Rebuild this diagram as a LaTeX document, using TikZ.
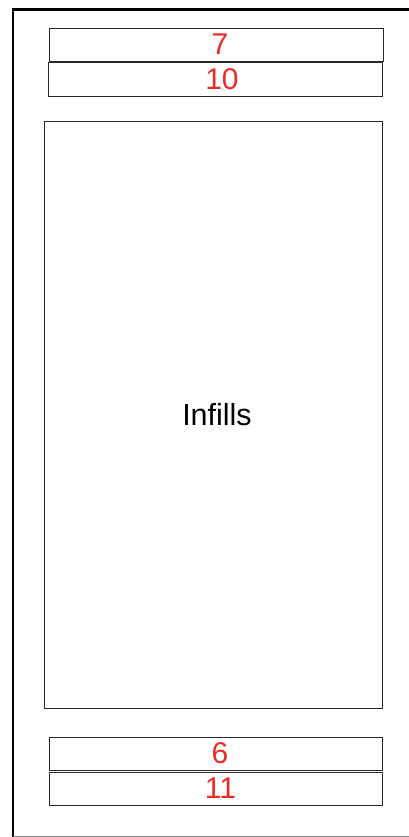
\documentclass[tikz,border=0pt]{standalone}
\usepackage{fontspec}
\setmainfont{Liberation Sans}
\definecolor{numred}{RGB}{234,43,38}
\definecolor{frameline}{RGB}{40,40,40}
\begin{document}
\begin{tikzpicture}[x=1pt,y=-1pt,
  box/.style={draw=frameline, line width=0.9pt, rectangle, inner sep=0pt},
  numlabel/.style={text=numred, font=\fontsize{30}{30}\selectfont},
  biglabel/.style={text=black, font=\fontsize{30.5}{30.5}\selectfont}]
\useasboundingbox (0,0) rectangle (409,837);
% outer frame
\draw[line width=2.6pt] (13,837) -- (13,9.5) -- (412,9.5);
\draw[line width=1pt, gray] (13,836) -- (409,836);
% boxes
\node[box, minimum width=334pt, minimum height=33pt] (b7) at (216,44.5) {};
\node[box, minimum width=334pt, minimum height=34pt] (b10) at (215,79) {};
\node[box, minimum width=338pt, minimum height=587pt] (inf) at (213,414.5) {};
\node[box, minimum width=333pt, minimum height=33pt] (b6) at (215.5,753.5) {};
\node[box, minimum width=333pt, minimum height=33pt] (b11) at (215.5,788.5) {};
% labels
\node[numlabel] (t7) at ([xshift=4pt]b7.center) {7};
\node[numlabel] (t10) at ([xshift=7pt]b10.center) {10};
\node[biglabel] (tinf) at ([xshift=4pt]inf.center) {Infills};
\node[numlabel] (t6) at ([xshift=4.5pt]b6.center) {6};
\node[numlabel] (t11) at ([xshift=5pt]b11.center) {11};
\end{tikzpicture}
\end{document}
